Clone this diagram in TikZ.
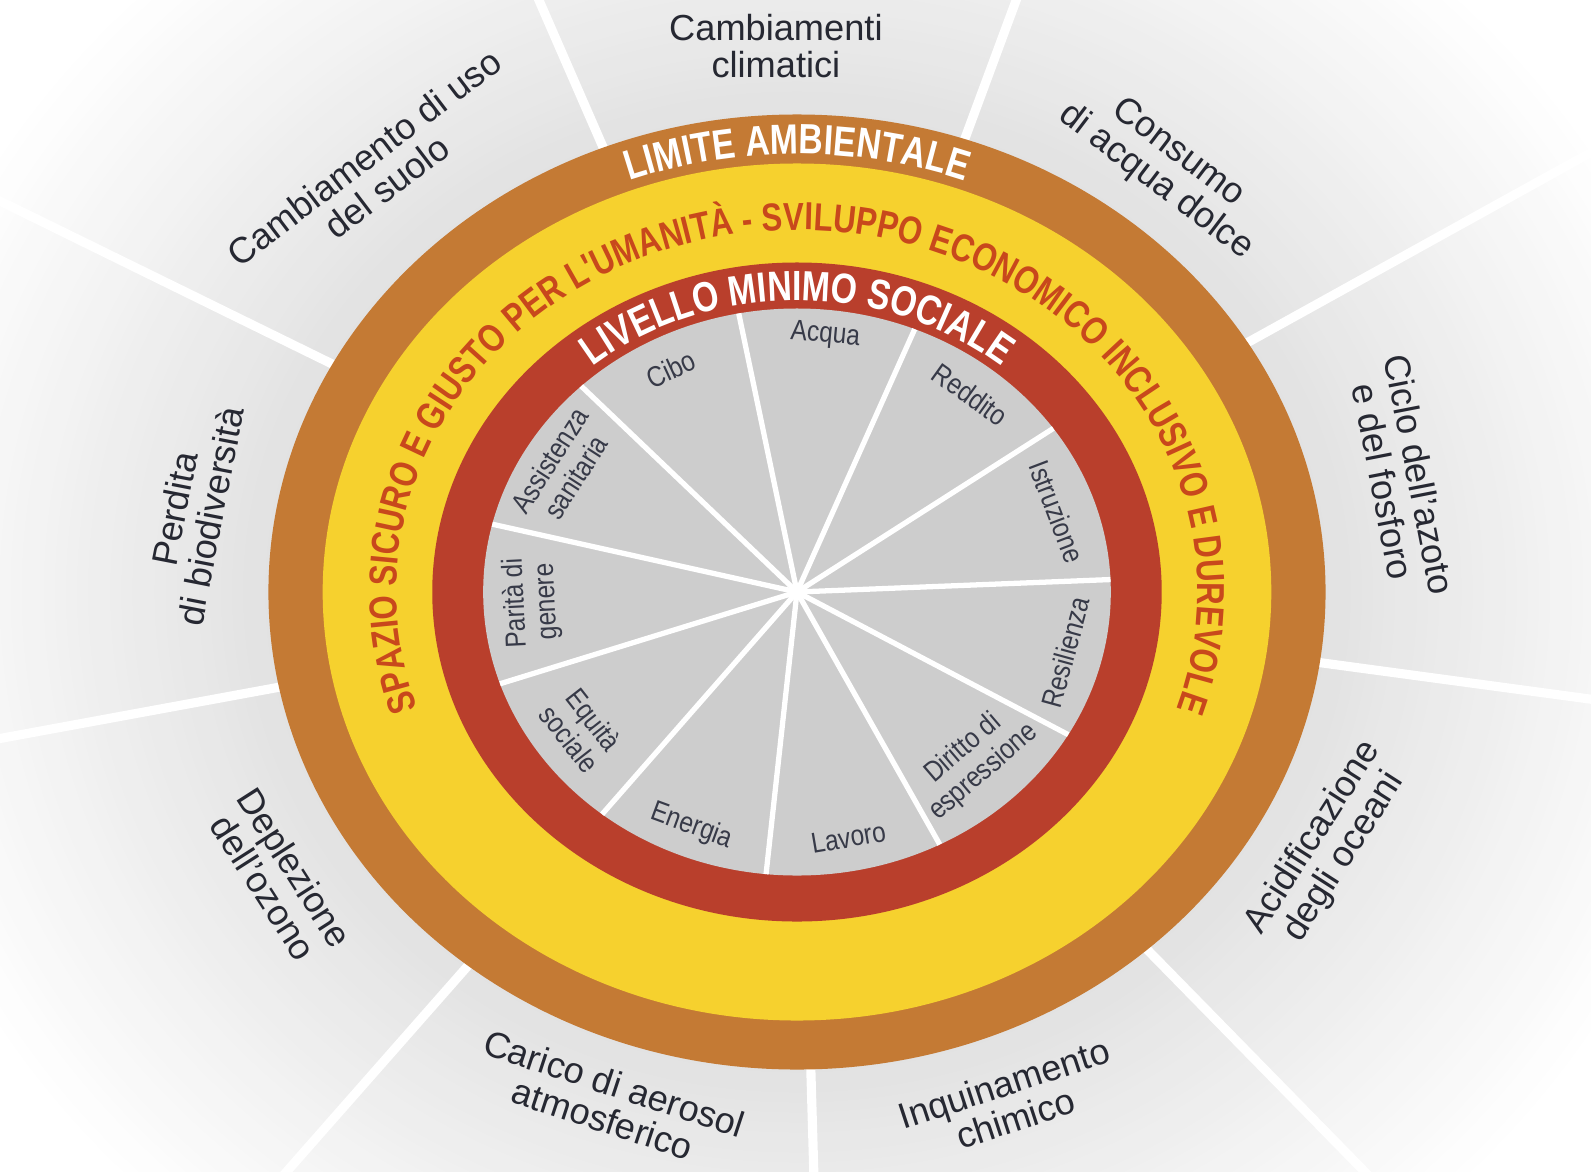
\documentclass[tikz,border=0pt]{standalone}
\usepackage{fontspec}
\setmainfont{Liberation Sans}
\newfontfamily\condfont{Liberation Sans}[FakeStretch=0.85]
\newfontfamily\ringcond{Liberation Sans}[FakeStretch=0.8]
\usepackage{tikz}
\usetikzlibrary{decorations.text}

\definecolor{brownring}{RGB}{196,122,52}
\definecolor{yellowring}{RGB}{246,209,46}
\definecolor{redring}{RGB}{185,63,44}
\definecolor{greydisk}{RGB}{205,205,205}
\definecolor{spaziotext}{RGB}{200,72,28}
\definecolor{intext}{RGB}{55,58,72}
\definecolor{outtext}{RGB}{38,40,50}
\definecolor{bggrey}{RGB}{226,226,226}

\newcommand{\ringfont}{\ringcond\bfseries\fontsize{12}{13}\selectfont}
\newcommand{\spaziofont}{\ringcond\bfseries\fontsize{11.1}{12}\selectfont}

\tikzset{
  inlab/.style={font=\condfont\fontsize{8.2}{8.8}\selectfont, text=intext, align=center, inner sep=0pt},
  outlab/.style={font=\fontsize{10.3}{10.5}\selectfont, text=outtext, align=center, inner sep=0pt},
  spokein/.style={white, line width=1.5pt},
  spokeout/.style={white, line width=2.6pt}
}

\begin{document}
\begin{tikzpicture}[x=0.01107cm, y=0.01cm]
    \useasboundingbox (-720,-579) rectangle (717.3,592);
    \clip (-720,-579) rectangle (717.3,592);
    \coordinate (c) at (0,0);
    \fill[white] (-720,-579) rectangle (717.3,592);
    % soft grey halo round the rings
    \foreach \i [evaluate=\i as \p using 100*\i/37, evaluate=\i as \r using 850-10*\i] in {0,...,37}
        \fill[bggrey!\p] (c) circle [radius=\r];

    % planetary boundaries
    \foreach \a in {0,...,8}
        \draw[spokeout] ({111.5-40*\a}:470) -- ({111.5-40*\a}:1100);

    \fill[brownring] (c) circle [radius=477.5];
    \fill[yellowring] (c) circle [radius=428.5];
    \fill[redring] (c) circle [radius=329.5];
    \fill[greydisk] (c) circle [radius=283.5];

    % social foundation
    \foreach \a in {0,...,10}
        \draw[spokein] (c) -- ({100.7-32.727*\a}:283.5);

    \path[decorate, decoration={text along path, text align=center,
        text={|\ringfont\color{white}|LIMITE AMBIENTALE}}]
        (180:438) arc [start angle=180, end angle=0, radius=438];
    \path[decorate, decoration={text along path, text align=center,
        text={|\spaziofont\color{spaziotext}|SPAZIO SICURO E GIUSTO PER L'UMANITÀ - SVILUPPO ECONOMICO INCLUSIVO E DUREVOLE}}]
        (240:362) arc [start angle=240, end angle=-60, radius=362];
    \path[decorate, decoration={text along path, text align=center,
        text={|\ringfont\color{white}|LIVELLO MINIMO SOCIALE}}]
        (180:291.5) arc [start angle=180, end angle=0, radius=291.5];

    \node[inlab, rotate=-5.2] (acqua) at (84.3:258) {Acqua};
    \node[inlab, rotate=-35.6] (reddito) at (51.6:252) {Reddito};
    \node[inlab, rotate=-69.2] (istruzione) at (18.9:248) {Istruzione};
    \node[inlab, rotate=74.7] (resilienza) at (-13.9:250) {Resilienza};
    \node[inlab, rotate=40.5] (diritto) at (-46.6:232) {Diritto di\\espressione};
    \node[inlab, rotate=9.7] (lavoro) at (-79.3:250) {Lavoro};
    \node[inlab, rotate=-20.1] (energia) at (-112.1:253) {Energia};
    \node[inlab, rotate=-52] (equita) at (-144.8:238) {Equità\\sociale};
    \node[inlab, rotate=92.8] (parita) at (182.5:240) {Parità di\\genere};
    \node[inlab, rotate=57.2] (assistenza) at (149.8:245) {Assistenza\\sanitaria};
    \node[inlab, rotate=24.8] (cibo) at (117.1:250) {Cibo};

    \node[outlab] (clima) at (92:546) {Cambiamenti\\climatici};
    \node[outlab, rotate=-37.2] (acquadolce) at (51.8:540) {Consumo\\di acqua dolce};
    \node[outlab, rotate=-79] (azoto) at (11.8:558) {Ciclo dell'azoto\\e del fosforo};
    \node[outlab, rotate=57.4] (oceani) at (-28:544) {Acidificazione\\degli oceani};
    \node[outlab, rotate=18.2] (chimico) at (-69.3:544) {Inquinamento\\chimico};
    \node[outlab, rotate=-18.2] (aerosol) at (-108.5:537) {Carico di aerosol\\atmosferico};
    \node[outlab, rotate=-57.4] (ozono) at (-148.6:548) {Deplezione\\dell'ozono};
    \node[outlab, rotate=79] (biodiv) at (171.7:552) {Perdita\\di biodiversità};
    \node[outlab, rotate=37.2] (suolo) at (132.2:567) {Cambiamento di uso\\del suolo};
\end{tikzpicture}
\end{document}
